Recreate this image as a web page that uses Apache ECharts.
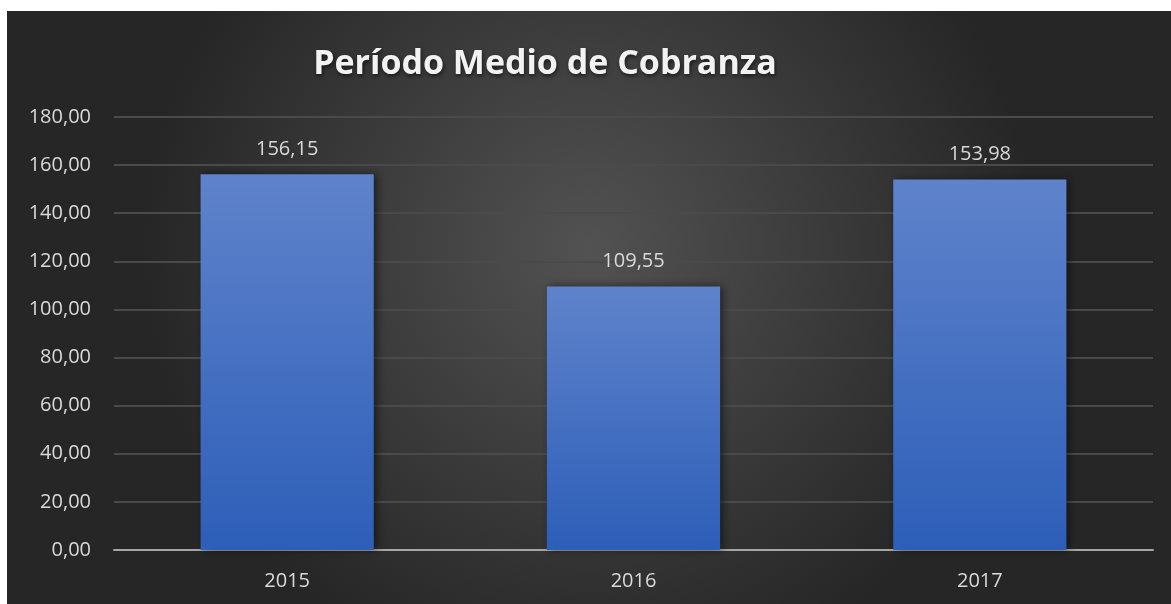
<!DOCTYPE html>
<html>
<head>
<meta charset="utf-8">
<script src="https://cdn.jsdelivr.net/npm/echarts@6/dist/echarts.min.js"></script>
<style>
html,body{margin:0;padding:0;background:#ffffff;}
#c{position:absolute;left:7px;top:11px;width:1164px;height:593px;}
</style>
</head>
<body>
<div id="c"></div>
<script>
const titleText = 'Período Medio de Cobranza';
const categories = ['2015', '2016', '2017'];
const values = [156.15, 109.55, 153.98];
const yTicks = [0, 20, 40, 60, 80, 100, 120, 140, 160, 180];

function fmt(v) { return v.toFixed(2).replace('.', ','); }

const chart = echarts.init(document.getElementById('c'));
chart.setOption({
  backgroundColor: {
    type: 'radial', x: 0.5, y: 0.4, r: 0.75,
    colorStops: [{offset: 0, color: '#525252'}, {offset: 1, color: '#262626'}]
  },
  title: {
    text: titleText,
    left: 533, top: 31, textAlign: 'center',
    textStyle: {
      fontFamily: 'Open Sans', fontWeight: 'bold', fontSize: 34, color: '#f2f2f2',
      textShadowColor: 'rgba(0,0,0,0.6)', textShadowBlur: 4, textShadowOffsetX: 1, textShadowOffsetY: 2
    }
  },
  grid: {left: 107, right: 18, top: 106, bottom: 54, containLabel: false},
  xAxis: {
    type: 'category', data: categories,
    axisLine: {show: true, lineStyle: {color: '#a6a6a6', width: 2}},
    axisTick: {show: false},
    axisLabel: {color: '#d9d9d9', fontFamily: 'Open Sans', fontSize: 20, margin: 21}
  },
  yAxis: {
    type: 'value', min: yTicks[0], max: yTicks[yTicks.length - 1], interval: 20,
    axisLine: {show: false}, axisTick: {show: false},
    axisLabel: {color: '#d9d9d9', fontFamily: 'Open Sans', fontSize: 20, margin: 23, formatter: v => fmt(v)},
    splitLine: {lineStyle: {color: '#4a4a4a', width: 2}}
  },
  series: [{
    type: 'bar', data: values, barWidth: '50%',
    itemStyle: {
      color: {type: 'linear', x: 0, y: 0, x2: 0, y2: 1,
        colorStops: [{offset: 0, color: '#5f83cb'}, {offset: 1, color: '#2d5eb8'}]},
      shadowColor: 'rgba(0,0,0,0.5)', shadowBlur: 8, shadowOffsetX: 3, shadowOffsetY: 0
    },
    label: {show: true, position: 'top', distance: 15, color: '#d9d9d9', fontFamily: 'Open Sans', fontSize: 20,
      formatter: p => fmt(p.value)}
  }]
});
</script>
</body>
</html>
